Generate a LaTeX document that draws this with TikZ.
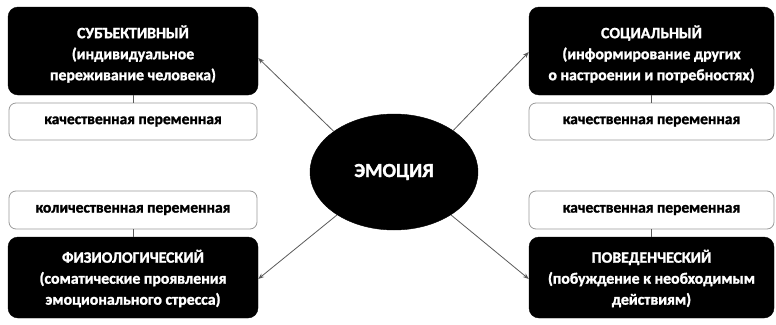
\documentclass[tikz,border=0pt]{standalone}
\usepackage{fontspec}
\setmainfont{Carlito}[BoldFeatures={FakeBold=1.5}]
\usetikzlibrary{shapes.geometric,arrows.meta}
\definecolor{linegray}{HTML}{5A5A5A}
\definecolor{boxgray}{HTML}{9A9A9A}
\begin{document}
\begin{tikzpicture}[x=1pt,y=-1pt,
  blackbox/.style={rectangle,rounded corners=10pt,fill=black,draw=black,inner sep=0pt},
  boxtext/.style={text=white,align=center,font=\bfseries\fontsize{15.8}{21}\selectfont,inner sep=0pt},
  whitebox/.style={rectangle,rounded corners=7pt,fill=white,draw=boxgray,line width=0.8pt,
    text=black,align=center,font=\bfseries\fontsize{15.5}{18}\selectfont,inner sep=0pt},
  arr/.style={draw=linegray,line width=0.8pt,-{Stealth[length=6pt,width=4.5pt]}},
  tie/.style={draw=linegray,line width=0.8pt}]
\useasboundingbox (0,0) rectangle (776,324);
\node[blackbox,minimum width=250pt,minimum height=88pt] (tl) at (133,51) {};
\node[boxtext,yshift=-3pt] (tlt) at (tl.center)
  {СУБЪЕКТИВНЫЙ\\(индивидуальное\\переживание человека)};
\node[blackbox,minimum width=245pt,minimum height=88pt] (tr) at (651.5,51) {};
\node[boxtext,yshift=-3pt] (trt) at (tr.center)
  {СОЦИАЛЬНЫЙ\\(информирование других\\о настроении и потребностях)};
\node[blackbox,minimum width=250pt,minimum height=81pt] (bl) at (133,277.5) {};
\node[boxtext,yshift=-1pt] (blt) at (bl.center)
  {ФИЗИОЛОГИЧЕСКИЙ\\(соматические проявления\\эмоционального стресса)};
\node[blackbox,minimum width=245pt,minimum height=81pt] (br) at (651.5,277.5) {};
\node[boxtext,yshift=-1pt] (brt) at (br.center)
  {ПОВЕДЕНЧЕСКИЙ\\(побуждение к необходимым\\действиям)};
\node[whitebox,minimum width=248pt,minimum height=37pt] (wtl) at (133,121.5) {качественная переменная};
\node[whitebox,minimum width=245pt,minimum height=37pt] (wtr) at (651.5,121.5) {качественная переменная};
\node[whitebox,minimum width=248pt,minimum height=38pt] (wbl) at (133,210) {количественная переменная};
\node[whitebox,minimum width=245pt,minimum height=38pt] (wbr) at (651.5,210) {качественная переменная};
\node[ellipse,fill=black,draw=black,minimum width=168pt,minimum height=116pt,inner sep=0pt,
  text=white,font=\bfseries\fontsize{20}{22}\selectfont] (emo) at (394,172) {ЭМОЦИЯ};
\draw[tie] (tl.south) -- (wtl.north);
\draw[tie] (tr.south) -- (wtr.north);
\draw[tie] (bl.north) -- (wbl.south);
\draw[tie] (br.north) -- (wbr.south);
\draw[arr] (emo.146) -- (tl.east |- 0,58);
\draw[arr] (emo.35) -- (tr.west |- 0,52);
\draw[arr] (emo.217) -- (bl.east |- 0,279);
\draw[arr] (emo.323) -- (br.west |- 0,279);
\end{tikzpicture}
\end{document}
